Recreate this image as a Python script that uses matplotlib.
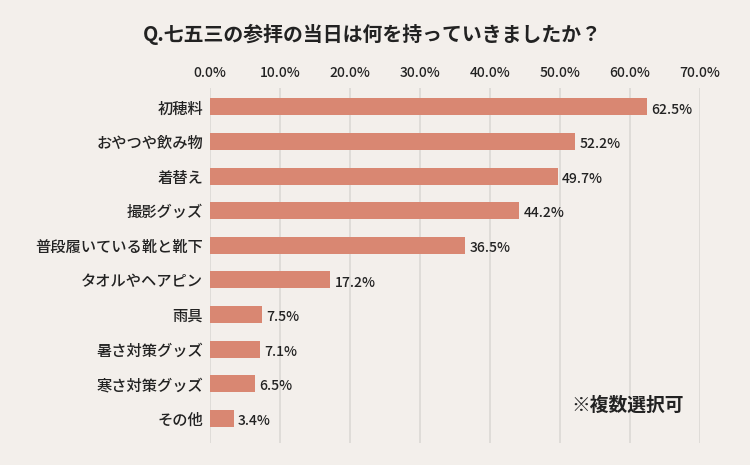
import matplotlib.pyplot as plt
from matplotlib.ticker import FuncFormatter

plt.rcParams['font.family'] = ['Noto Sans CJK JP', 'DejaVu Sans']

categories = ['初穂料', 'おやつや飲み物', '着替え', '撮影グッズ', '普段履いている靴と靴下',
              'タオルやヘアピン', '雨具', '暑さ対策グッズ', '寒さ対策グッズ', 'その他']
values = [62.5, 52.2, 49.7, 44.2, 36.5, 17.2, 7.5, 7.1, 6.5, 3.4]
ticks = [0, 10, 20, 30, 40, 50, 60, 70]

bg = '#f3efeb'
bar_color = '#d98772'

fig = plt.figure(figsize=(7.5, 4.65), dpi=100, facecolor=bg)
ax = fig.add_axes([0.28, 0.047, 0.6533, 0.764], facecolor=bg)

pos = list(range(len(categories)))
ax.barh(pos, values, height=0.49, color=bar_color, zorder=3)

for p, v in zip(pos, values):
    ax.text(v + 0.6, p + 0.08, f'{v:.1f}%', va='center', ha='left', fontsize=10,
            fontweight='medium', color='#222222')

ax.set_xlim(0, 70)
ax.set_ylim(9.72, -0.55)
ax.set_xticks(ticks)
ax.xaxis.set_major_formatter(FuncFormatter(lambda x, _: f'{x:.1f}%'))
ax.xaxis.tick_top()
ax.tick_params(axis='x', length=0, pad=6, labelsize=10, labelcolor='#222222')
for lbl in ax.get_xticklabels():
    lbl.set_fontweight('medium')
ax.set_yticks(pos)
ax.set_yticklabels(categories, fontsize=11, fontweight='medium', color='#222222')
ax.tick_params(axis='y', length=0, pad=5)
ax.grid(axis='x', color='#dcd9d5', linewidth=1.2, zorder=0)
for s in ax.spines.values():
    s.set_visible(False)

fig.text(0.497, 0.925, 'Q.七五三の参拝の当日は何を持っていきましたか？', ha='center', va='center',
         fontsize=14.3, fontweight='bold', color='#222222')
fig.text(0.762, 0.128, '※複数選択可', ha='left', va='center', fontsize=13.5,
         fontweight='bold', color='#222222')

fig.savefig('out.png', dpi=100, facecolor=bg)
